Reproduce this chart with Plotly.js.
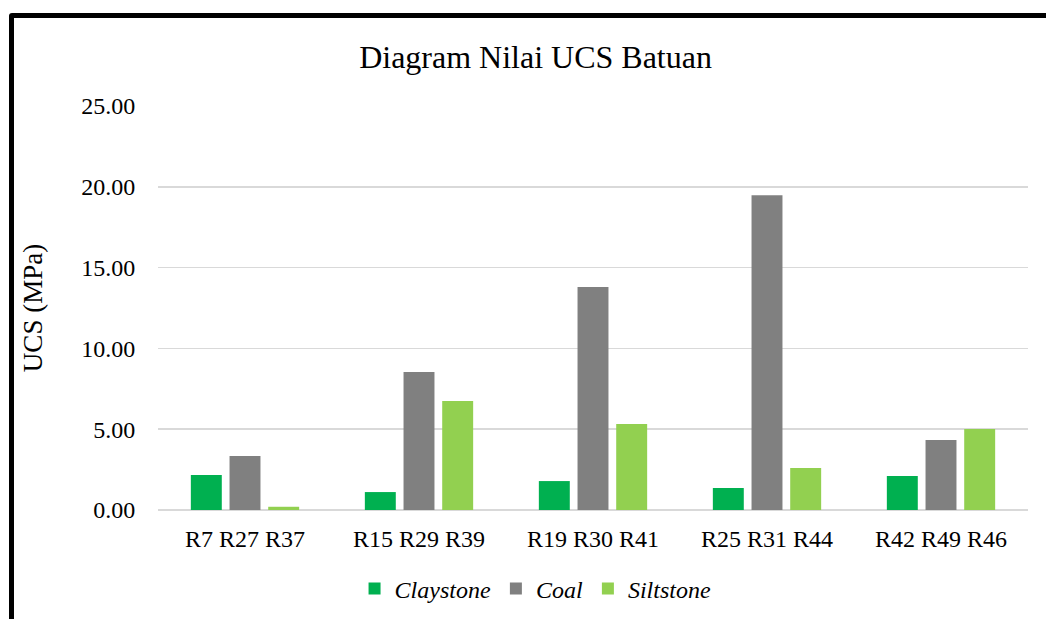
<!DOCTYPE html>
<html>
<head>
<meta charset="utf-8">
<script src="https://cdn.plot.ly/plotly-3.0.1.min.js"></script>
<style>
  html, body { margin:0; padding:0; background:#fff; overflow:hidden; }
  #chart { width:1046px; height:619px; position:absolute; left:0; top:0; }
  #frame { position:absolute; left:9px; top:13px; width:1100px; height:700px;
           border:5px solid #000; border-radius:3px; pointer-events:none; box-sizing:border-box; }
</style>
</head>
<body>
<div id="chart"></div>
<div id="frame"></div>
<script>
const categories = ["R7 R27 R37", "R15 R29 R39", "R19 R30 R41", "R25 R31 R44", "R42 R49 R46"];
const claystone = [2.17, 1.11, 1.79, 1.36, 2.10];
const coal = [3.34, 8.54, 13.80, 19.47, 4.33];
const siltstone = [0.20, 6.75, 5.32, 2.60, 5.01];
const seriesNames = ["Claystone", "Coal", "Siltstone"];
const seriesColors = ["#00B050", "#808080", "#92D050"];
const yTicks = [0, 5, 10, 15, 20, 25];

const values = [claystone, coal, siltstone];
const traces = values.map((v, i) => ({
  type: 'bar',
  name: '<i>' + seriesNames[i] + '</i>',
  x: categories,
  y: v,
  marker: { color: seriesColors[i] },
  hoverinfo: 'none'
}));

const serif = '"Liberation Serif", "Times New Roman", serif';
const layout = {
  width: 1046, height: 619,
  margin: { l: 158, r: 18, t: 106, b: 109, autoexpand: false },
  paper_bgcolor: 'rgba(0,0,0,0)',
  plot_bgcolor: '#fff',
  font: { family: serif, color: '#000', size: 24 },
  title: {
    text: 'Diagram Nilai UCS Batuan',
    font: { size: 32, family: serif, color: '#000' },
    x: 0.512, xanchor: 'center', xref: 'container',
    y: 1 - 57/619, yanchor: 'middle', yref: 'container'
  },
  barmode: 'group',
  bargap: 0.333,
  bargroupgap: 0.2,
  showlegend: true,
  legend: {
    orientation: 'h', x: 0.512, xref: 'container', xanchor: 'center',
    y: 1 - 589/619, yref: 'container', yanchor: 'middle',
    font: { size: 24 }, itemwidth: 30, traceorder: 'normal'
  },
  xaxis: {
    type: 'category',
    showgrid: false, zeroline: false, showline: false,
    ticks: 'outside', ticklen: 7, tickcolor: 'rgba(0,0,0,0)',
    tickfont: { size: 24 }
  },
  yaxis: {
    range: [0, 25], tickvals: yTicks, tickformat: '.2f',
    showgrid: true, gridcolor: '#d9d9d9', gridwidth: 1.5,
    zeroline: true, zerolinecolor: '#d9d9d9', zerolinewidth: 1.5,
    showline: false,
    ticks: 'outside', ticklen: 17, tickcolor: 'rgba(0,0,0,0)',
    tickfont: { size: 24 },
    title: { text: 'UCS (MPa)', font: { size: 27 }, standoff: 30 }
  }
};

Plotly.newPlot('chart', traces, layout, { staticPlot: true, displayModeBar: false });
</script>
</body>
</html>
